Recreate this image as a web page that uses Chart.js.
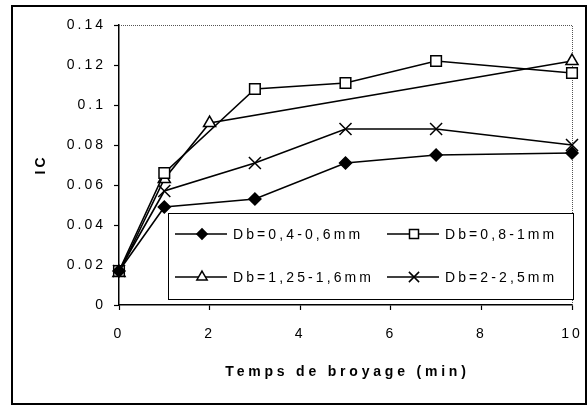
<!DOCTYPE html>
<html>
<head>
<meta charset="utf-8">
<script src="https://cdn.jsdelivr.net/npm/chart.js@4/dist/chart.umd.min.js"></script>
<style>
  body { margin: 0; background: #fff; }
  #frame { position: absolute; left: 11px; top: 5px; width: 576px; height: 400px; border: 2px solid #000; box-sizing: border-box; }
  #c { position: absolute; left: 0; top: 0; }
</style>
</head>
<body>
<div id="frame"></div>
<canvas id="c" width="588" height="406"></canvas>
<script>
// Grinding time (min) and IC for each Db class
const labels = ['Db=0,4-0,6mm', 'Db=0,8-1mm', 'Db=1,25-1,6mm', 'Db=2-2,5mm'];
const time1 = [0, 1, 3, 5, 7, 10];
const ic1 = [0.017, 0.049, 0.053, 0.071, 0.075, 0.076];
const time2 = [0, 1, 3, 5, 7, 10];
const ic2 = [0.017, 0.066, 0.108, 0.111, 0.122, 0.116];
const time3 = [0, 1, 2, 10];
const ic3 = [0.016, 0.063, 0.091, 0.122];
const time4 = [0, 1, 3, 5, 7, 10];
const ic4 = [0.017, 0.057, 0.071, 0.088, 0.088, 0.080];

const xTicks = [0, 2, 4, 6, 8, 10];
const yTicks = [0, 0.02, 0.04, 0.06, 0.08, 0.1, 0.12, 0.14];
const xTitle = 'Temps de broyage (min)';
const yTitle = 'IC';

const FONT = "'Liberation Sans', Arial, sans-serif";

function pts(xs, ys) {
  return xs.map((x, i) => ({ x: x, y: ys[i] }));
}

function series(label, data, style, radius, fill) {
  return {
    label: label,
    data: data,
    showLine: true,
    clip: false,
    borderColor: '#000',
    borderWidth: 1.6,
    pointStyle: style,
    pointRadius: radius,
    pointBackgroundColor: fill,
    pointBorderColor: '#000',
    pointBorderWidth: 1.5,
    tension: 0
  };
}

// fixed axis boxes so the plot area lands where we want it
function fixBox(size) {
  return s => {
    if (s.isHorizontal()) s.height = size; else s.width = size;
    s.paddingLeft = s.paddingRight = s.paddingTop = s.paddingBottom = 0;
  };
}

// Chrome drops letterSpacing whenever ctx.font is set, so re-apply it
function keepSpacing(ctx, spacing) {
  const fontProp = Object.getOwnPropertyDescriptor(CanvasRenderingContext2D.prototype, 'font');
  Object.defineProperty(ctx, 'font', {
    get() { return fontProp.get.call(this); },
    set(v) { fontProp.set.call(this, v); this.letterSpacing = spacing; }
  });
}

const extras = {
  id: 'extras',
  beforeDatasetsDraw(chart) {
    // dotted top and right edges of the plot area
    const { ctx, chartArea: a } = chart;
    ctx.save();
    ctx.setLineDash([1, 1]);
    ctx.strokeStyle = '#555';
    ctx.lineWidth = 1;
    ctx.beginPath();
    ctx.moveTo(a.left, a.top + 0.5);
    ctx.lineTo(a.right + 0.5, a.top + 0.5);
    ctx.lineTo(a.right + 0.5, a.bottom);
    ctx.stroke();
    ctx.restore();
  },
  afterDraw(chart) {
    const { ctx, chartArea: a } = chart;
    ctx.save();
    ctx.fillStyle = '#000';

    // axis titles
    ctx.font = 'bold 14px ' + FONT;
    ctx.letterSpacing = '3.8px';
    ctx.textAlign = 'center';
    ctx.textBaseline = 'middle';
    ctx.fillText(xTitle, (a.left + a.right) / 2 + 2, a.bottom + 67);
    ctx.save();
    ctx.translate(41, 166);
    ctx.rotate(-Math.PI / 2);
    ctx.letterSpacing = '3px';
    ctx.fillText(yTitle, 1.5, 0);
    ctx.restore();

    // legend box inside the plot
    const bx = a.left + 49, by = a.bottom - 92, bw = a.right + 1 - bx, bh = 86;
    ctx.fillStyle = '#fff';
    ctx.fillRect(bx, by, bw, bh);
    ctx.strokeStyle = '#000';
    ctx.lineWidth = 1;
    ctx.strokeRect(bx + 0.5, by + 0.5, bw, bh);

    ctx.font = '14px ' + FONT;
    ctx.letterSpacing = '3.1px';
    ctx.textAlign = 'left';
    const cols = [bx + 7, bx + 219];
    const rows = [by + 21, by + 64];
    chart.data.datasets.forEach((ds, i) => {
      const x0 = cols[i % 2], y0 = rows[Math.floor(i / 2)];
      ctx.strokeStyle = '#000';
      ctx.lineWidth = 1.6;
      ctx.beginPath();
      ctx.moveTo(x0, y0);
      ctx.lineTo(x0 + 52, y0);
      ctx.stroke();
      ctx.fillStyle = ds.pointBackgroundColor;
      ctx.lineWidth = ds.pointBorderWidth;
      Chart.helpers.drawPoint(ctx, {
        pointStyle: ds.pointStyle,
        radius: ds.pointRadius * 0.85,
        borderWidth: ds.pointBorderWidth,
        rotation: 0
      }, x0 + 27, y0);
      ctx.fillStyle = '#000';
      ctx.fillText(ds.label, x0 + 58, y0 + 1);
    });
    ctx.restore();
  }
};

const canvas = document.getElementById('c');
keepSpacing(canvas.getContext('2d'), '3px');

new Chart(canvas, {
  type: 'scatter',
  data: {
    datasets: [
      series(labels[0], pts(time1, ic1), 'rectRot', 6, '#000'),
      series(labels[1], pts(time2, ic2), 'rect', 7.5, '#fff'),
      series(labels[2], pts(time3, ic3), 'triangle', 7, '#fff'),
      series(labels[3], pts(time4, ic4), 'crossRot', 8.5, '#000')
    ]
  },
  options: {
    responsive: false,
    animation: false,
    layout: { padding: { top: 25, right: 16, left: 0, bottom: 0 } },
    plugins: { legend: { display: false }, tooltip: { enabled: false } },
    scales: {
      x: {
        type: 'linear',
        min: xTicks[0],
        max: xTicks[xTicks.length - 1],
        afterBuildTicks: s => { s.ticks = xTicks.map(v => ({ value: v })); },
        afterFit: fixBox(101),
        ticks: { color: '#000', font: { family: FONT, size: 14 }, padding: 16, maxRotation: 0 },
        grid: { drawOnChartArea: false, tickLength: 5, color: '#000', tickWidth: 1.2 },
        border: { color: '#000', width: 1.5 }
      },
      y: {
        min: yTicks[0],
        max: yTicks[yTicks.length - 1],
        afterBuildTicks: s => { s.ticks = yTicks.map(v => ({ value: v })); },
        afterFit: fixBox(119),
        ticks: {
          color: '#000',
          font: { family: FONT, size: 14 },
          padding: 8,
          callback: v => String(+v.toFixed(2))
        },
        grid: { drawOnChartArea: false, tickLength: 5, color: '#000', tickWidth: 1.2 },
        border: { color: '#000', width: 1.5 }
      }
    }
  },
  plugins: [extras]
});
</script>
</body>
</html>
